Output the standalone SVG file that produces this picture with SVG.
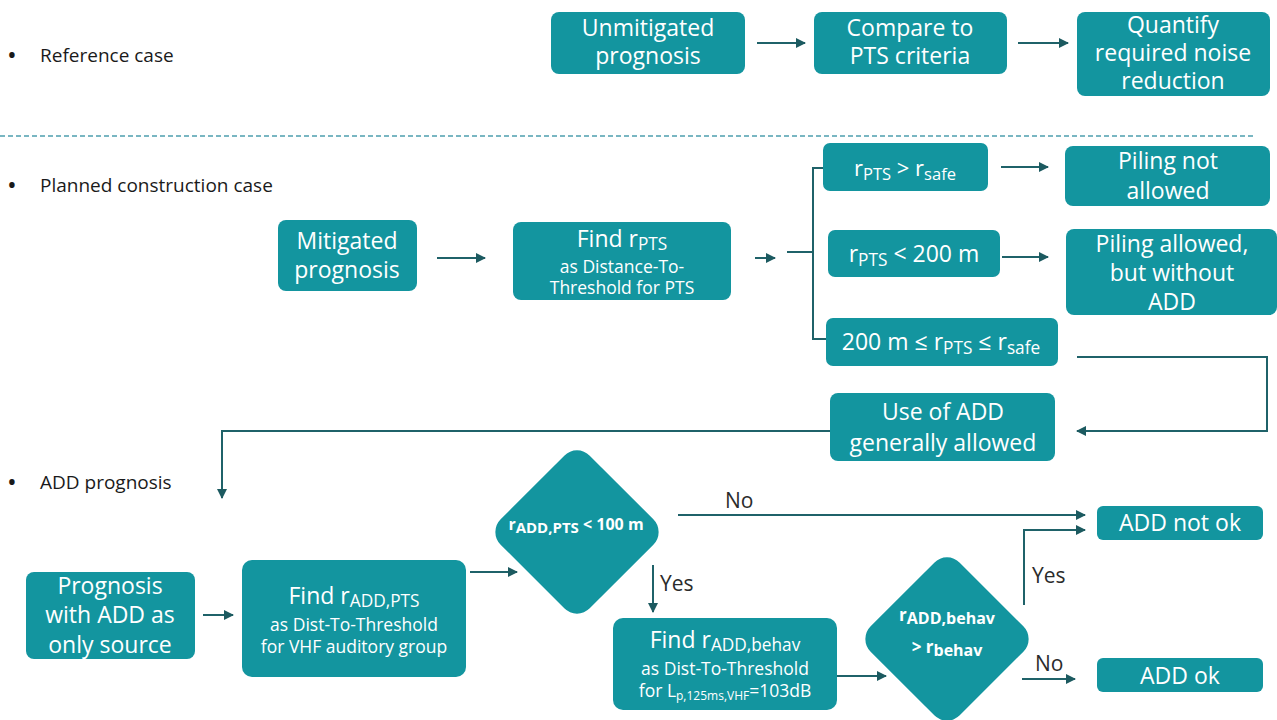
<svg xmlns="http://www.w3.org/2000/svg" width="1277" height="720" viewBox="0 0 1277 720">
<style>
.box{fill:#13959f}
.t{font-family:"Open Sans","Noto Sans",sans-serif;fill:#ffffff;text-anchor:middle}
.big{font-size:23px}
.sm{font-size:17.5px}
.lbl{font-family:"Open Sans","Noto Sans",sans-serif;fill:#2b2b2b;font-size:21px}
.bul{font-family:"Open Sans","Noto Sans",sans-serif;fill:#1a1a1a;font-size:19px}
.dot{font-family:"Open Sans","Noto Sans",sans-serif;fill:#1a1a1a;font-size:26px}
.ln{fill:none;stroke:#1f6269;stroke-width:2}
.sub{font-size:0.75em}
</style>
<defs>
<marker id="ah" viewBox="0 0 10 10" refX="9" refY="5" markerWidth="5" markerHeight="5" orient="auto">
<path d="M0,0 L10,5 L0,10 z" fill="#1c5a60"/>
</marker>
</defs>

<g id="bullets">
<text class="dot" x="7" y="64">•</text><text class="bul" x="40" y="62">Reference case</text>
<text class="dot" x="7" y="194">•</text><text class="bul" x="40" y="192">Planned construction case</text>
<text class="dot" x="7" y="491">•</text><text class="bul" x="40" y="489">ADD prognosis</text>
</g>

<line x1="0" y1="136" x2="1255" y2="136" stroke="#4d9fae" stroke-width="1.5" stroke-dasharray="5,3"/>

<g id="unmitigated"><rect class="box" x="551" y="12" width="194" height="62" rx="8"/>
<text class="t big" x="648" y="36">Unmitigated</text><text class="t big" x="648" y="64">prognosis</text></g>
<g id="compare"><rect class="box" x="814" y="12" width="193" height="62" rx="8"/>
<text class="t big" x="910" y="36">Compare to</text><text class="t big" x="910" y="64">PTS criteria</text></g>
<g id="quantify"><rect class="box" x="1077" y="12" width="193" height="84" rx="8"/>
<text class="t big" x="1173" y="33">Quantify</text><text class="t big" x="1173" y="61">required noise</text><text class="t big" x="1173" y="89">reduction</text></g>

<g id="mitigated"><rect class="box" x="278" y="220" width="139" height="71" rx="8"/>
<text class="t big" x="347" y="249">Mitigated</text><text class="t big" x="347" y="278">prognosis</text></g>
<g id="findpts"><rect class="box" x="513" y="222" width="218" height="78" rx="8"/>
<text class="t" x="622" y="247" font-size="23">Find r<tspan class="sub" dy="3">PTS</tspan></text>
<text class="t sm" x="622" y="273">as Distance-To-</text><text class="t sm" x="622" y="294">Threshold for PTS</text></g>

<g id="cond1"><rect class="box" x="823" y="143" width="165" height="48" rx="7"/>
<text class="t" x="905" y="176" font-size="22">r<tspan class="sub" dy="4">PTS</tspan><tspan dy="-4"> &gt; r</tspan><tspan class="sub" dy="4">safe</tspan></text></g>
<g id="cond2"><rect class="box" x="828" y="230" width="172" height="47" rx="7"/>
<text class="t" x="914" y="262" font-size="23">r<tspan class="sub" dy="4">PTS</tspan><tspan dy="-4"> &lt; 200 m</tspan></text></g>
<g id="cond3"><rect class="box" x="826" y="318" width="232" height="48" rx="7"/>
<text class="t" x="941" y="350" font-size="23">200 m ≤ r<tspan class="sub" dy="4">PTS</tspan><tspan dy="-4"> ≤ r</tspan><tspan class="sub" dy="4">safe</tspan></text></g>

<g id="pilingnot"><rect class="box" x="1065" y="146" width="205" height="60" rx="8"/>
<text class="t big" x="1168" y="169">Piling not</text><text class="t big" x="1168" y="199">allowed</text></g>
<g id="pilingallowed"><rect class="box" x="1066" y="229" width="211" height="86" rx="8"/>
<text class="t big" x="1172" y="252">Piling allowed,</text><text class="t big" x="1172" y="281">but without</text><text class="t big" x="1172" y="310">ADD</text></g>
<g id="useadd"><rect class="box" x="830" y="393" width="225" height="68" rx="8"/>
<text class="t big" x="943" y="420">Use of ADD</text><text class="t big" x="943" y="451">generally allowed</text></g>

<g id="prognosisadd"><rect class="box" x="26" y="572" width="169" height="87" rx="8"/>
<text class="t big" x="110" y="594">Prognosis</text><text class="t big" x="110" y="623">with ADD as</text><text class="t big" x="110" y="653">only source</text></g>
<g id="findaddpts"><rect class="box" x="242" y="560" width="224" height="117" rx="10"/>
<text class="t" x="354" y="604" font-size="23">Find r<tspan class="sub" dy="3">ADD,PTS</tspan></text>
<text class="t sm" x="354" y="631">as Dist-To-Threshold</text><text class="t sm" x="354" y="653">for VHF auditory group</text></g>
<g id="diamond1"><rect class="box" x="514" y="469" width="126" height="126" rx="18" transform="rotate(45 577 532)"/>
<text class="t" x="576" y="530" font-size="16" font-weight="bold">r<tspan font-size="15" dy="3">ADD,PTS</tspan><tspan dy="-3"> &lt; 100 m</tspan></text></g>
<g id="findbehav"><rect class="box" x="613" y="618" width="224" height="92" rx="10"/>
<text class="t" x="725" y="648" font-size="23">Find r<tspan class="sub" dy="3">ADD,behav</tspan></text>
<text class="t sm" x="725" y="675">as Dist-To-Threshold</text>
<text class="t sm" x="725" y="697">for L<tspan font-size="12" dy="3">p,125ms,VHF</tspan><tspan dy="-3">=103dB</tspan></text></g>
<g id="diamond2"><rect class="box" x="884" y="576" width="126" height="126" rx="18" transform="rotate(45 947 639)"/>
<text class="t" x="947" y="621" font-size="17" font-weight="bold">r<tspan font-size="16" dy="3">ADD,behav</tspan></text>
<text class="t" x="947" y="653" font-size="17" font-weight="bold">&gt; r<tspan font-size="16" dy="3">behav</tspan></text></g>
<g id="addnotok"><rect class="box" x="1097" y="506" width="166" height="34" rx="6"/>
<text class="t big" x="1180" y="531">ADD not ok</text></g>
<g id="addok"><rect class="box" x="1097" y="658" width="166" height="34" rx="6"/>
<text class="t big" x="1180" y="684">ADD ok</text></g>

<g id="connectors">
<line class="ln" x1="757" y1="43" x2="805" y2="43" marker-end="url(#ah)"/>
<line class="ln" x1="1018" y1="43" x2="1068" y2="43" marker-end="url(#ah)"/>
<line class="ln" x1="437" y1="258" x2="485" y2="258" marker-end="url(#ah)"/>
<line class="ln" x1="755" y1="258" x2="775" y2="258" marker-end="url(#ah)"/>
<polyline class="ln" points="787,252 813,252"/>
<polyline class="ln" points="823,168 813,168 813,339 826,339"/>
<line class="ln" x1="1001" y1="167" x2="1048" y2="167" marker-end="url(#ah)"/>
<line class="ln" x1="1002" y1="257" x2="1048" y2="257" marker-end="url(#ah)"/>
<polyline class="ln" points="1077,357 1267,357 1267,431 1077,431" marker-end="url(#ah)"/>
<polyline class="ln" points="830,431 222,431 222,498" marker-end="url(#ah)"/>
<line class="ln" x1="203" y1="615" x2="233" y2="615" marker-end="url(#ah)"/>
<line class="ln" x1="470" y1="572" x2="517" y2="572" marker-end="url(#ah)"/>
<line class="ln" x1="678" y1="515" x2="1085" y2="515" marker-end="url(#ah)"/>
<line class="ln" x1="653" y1="565" x2="653" y2="612" marker-end="url(#ah)"/>
<line class="ln" x1="837" y1="676" x2="886" y2="676" marker-end="url(#ah)"/>
<polyline class="ln" points="1024,605 1024,530 1085,530" marker-end="url(#ah)"/>
<line class="ln" x1="1022" y1="679" x2="1075" y2="679" marker-end="url(#ah)"/>
<text class="lbl" x="725" y="508">No</text>
<text class="lbl" x="660" y="591">Yes</text>
<text class="lbl" x="1032" y="583">Yes</text>
<text class="lbl" x="1035" y="671">No</text>
</g>
</svg>
